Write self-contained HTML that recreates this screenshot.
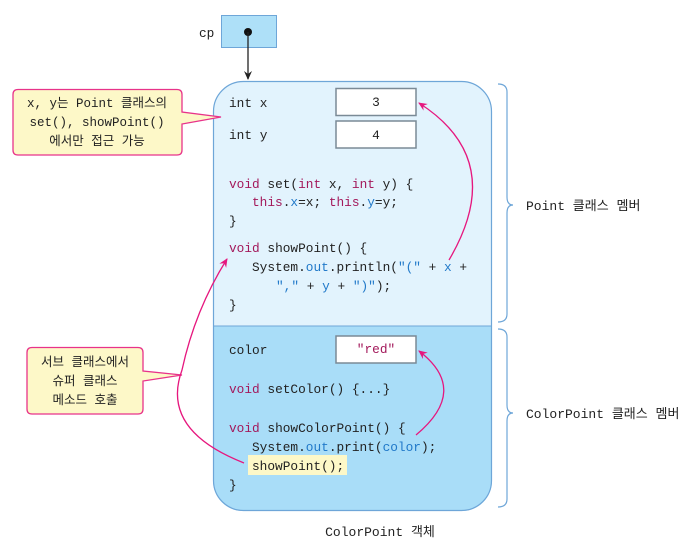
<!DOCTYPE html>
<html><head><meta charset="utf-8"><style>
body{margin:0;background:#fff}
svg{display:block}
text{font-family:"Liberation Mono","Noto Sans CJK KR",monospace;font-size:12.8px;fill:#222}
.k{fill:#a3195b}.b{fill:#2179c9}.s{fill:#a3195b}
.ko{font-size:13px}
.co{font-size:12.5px}
</style></head><body>
<svg width="688" height="547" viewBox="0 0 688 547" xmlns="http://www.w3.org/2000/svg">
<defs>
<marker id="ap" markerWidth="10" markerHeight="10" refX="8" refY="5" orient="auto" markerUnits="userSpaceOnUse"><path d="M0,1 L9,5 L0,9 L3,5 Z" fill="#e6177e"/></marker>
<marker id="ak" markerWidth="10" markerHeight="10" refX="8" refY="5" orient="auto" markerUnits="userSpaceOnUse"><path d="M0,1 L9,5 L0,9 L3,5 Z" fill="#222"/></marker>
<clipPath id="cl"><rect x="213" y="81" width="279" height="430" rx="30"/></clipPath>
</defs>
<text x="199" y="37">cp</text>
<rect x="221.5" y="15.5" width="55" height="32" fill="#aee0f8" stroke="#6ea6d8"/>
<circle cx="248" cy="32" r="4" fill="#111"/>
<line x1="248" y1="32" x2="248" y2="79" stroke="#222" stroke-width="1.3" marker-end="url(#ak)"/>
<g clip-path="url(#cl)">
<rect x="213" y="81" width="279" height="245" fill="#e2f3fd"/>
<rect x="213" y="326" width="279" height="190" fill="#a9ddf8"/>
</g>
<line x1="213" y1="326" x2="492" y2="326" stroke="#6ea6d8"/>
<rect x="213.5" y="81.5" width="278" height="429" rx="30" fill="none" stroke="#6ea6d8" stroke-width="1.2"/>
<rect x="336" y="88.5" width="80" height="27" fill="#fff" stroke="#7a8a96" stroke-width="1.5"/>
<rect x="336" y="121" width="80" height="27" fill="#fff" stroke="#7a8a96" stroke-width="1.5"/>
<rect x="336" y="336" width="80" height="27" fill="#fff" stroke="#7a8a96" stroke-width="1.5"/>
<text x="376" y="106" text-anchor="middle" fill="#444">3</text>
<text x="376" y="139" text-anchor="middle" fill="#444">4</text>
<text x="376" y="353" text-anchor="middle" class="s">"red"</text>
<rect x="248" y="455" width="99" height="20" fill="#fdf8c8"/>
<text x="229" y="107" fill="#444">int x</text>
<text x="229" y="139" fill="#444">int y</text>
<text x="229" y="188"><tspan class="k">void</tspan> set(<tspan class="k">int</tspan> x, <tspan class="k">int</tspan> y) {</text>
<text x="252" y="206"><tspan class="k">this</tspan>.<tspan class="b">x</tspan>=x; <tspan class="k">this</tspan>.<tspan class="b">y</tspan>=y;</text>
<text x="229" y="225">}</text>
<text x="229" y="252"><tspan class="k">void</tspan> showPoint() {</text>
<text x="252" y="271">System.<tspan class="b">out</tspan>.println(<tspan class="b">"("</tspan> + <tspan class="b">x</tspan> +</text>
<text x="276" y="290"><tspan class="b">","</tspan> + <tspan class="b">y</tspan> + <tspan class="b">")"</tspan>);</text>
<text x="229" y="309">}</text>
<text x="229" y="354">color</text>
<text x="229" y="393"><tspan class="k">void</tspan> setColor() {...}</text>
<text x="229" y="432"><tspan class="k">void</tspan> showColorPoint() {</text>
<text x="252" y="451">System.<tspan class="b">out</tspan>.print(<tspan class="b">color</tspan>);</text>
<text x="252" y="470">showPoint();</text>
<text x="229" y="489">}</text>
<path d="M498,84 Q507,84 507,92 L507,197 Q507,205 513,205 Q507,205 507,213 L507,314 Q507,322 498,322" fill="none" stroke="#6ea6d8" stroke-width="1.2"/>
<path d="M498,329 Q507,329 507,337 L507,405 Q507,413 513,413 Q507,413 507,421 L507,499 Q507,507 498,507" fill="none" stroke="#6ea6d8" stroke-width="1.2"/>
<text x="526" y="210" class="ko">Point 클래스 멤버</text>
<text x="526" y="418" class="ko">ColorPoint 클래스 멤버</text>
<text x="380" y="536" text-anchor="middle" class="ko">ColorPoint 객체</text>
<path d="M18,89.5 H177 Q182,89.5 182,94.5 V112 L221,117 L182,124 V150 Q182,155 177,155 H18 Q13,155 13,150 V94.5 Q13,89.5 18,89.5 Z" fill="#fdf8c8" stroke="#e8338a" stroke-width="1.3"/>
<text x="97" y="107" text-anchor="middle" class="co">x, y는 Point 클래스의</text>
<text x="97" y="126" text-anchor="middle" class="co">set(), showPoint()</text>
<text x="97" y="145" text-anchor="middle" class="co">에서만 접근 가능</text>
<path d="M32,347.5 H138 Q143,347.5 143,352.5 V371 L182,375 L143,381 V409 Q143,414 138,414 H32 Q27,414 27,409 V352.5 Q27,347.5 32,347.5 Z" fill="#fdf8c8" stroke="#e8338a" stroke-width="1.3"/>
<text x="85" y="366" text-anchor="middle" class="co">서브 클래스에서</text>
<text x="85" y="385" text-anchor="middle" class="co">슈퍼 클래스</text>
<text x="85" y="404" text-anchor="middle" class="co">메소드 호출</text>
<path d="M449,260 Q508,160 419,103" fill="none" stroke="#e6177e" stroke-width="1.3" marker-end="url(#ap)"/>
<path d="M416,435 Q470,390 419,351" fill="none" stroke="#e6177e" stroke-width="1.3" marker-end="url(#ap)"/>
<path d="M244,463 Q160,430 182,370 Q195,310 227,259" fill="none" stroke="#e6177e" stroke-width="1.3" marker-end="url(#ap)"/>
</svg>
</body></html>
